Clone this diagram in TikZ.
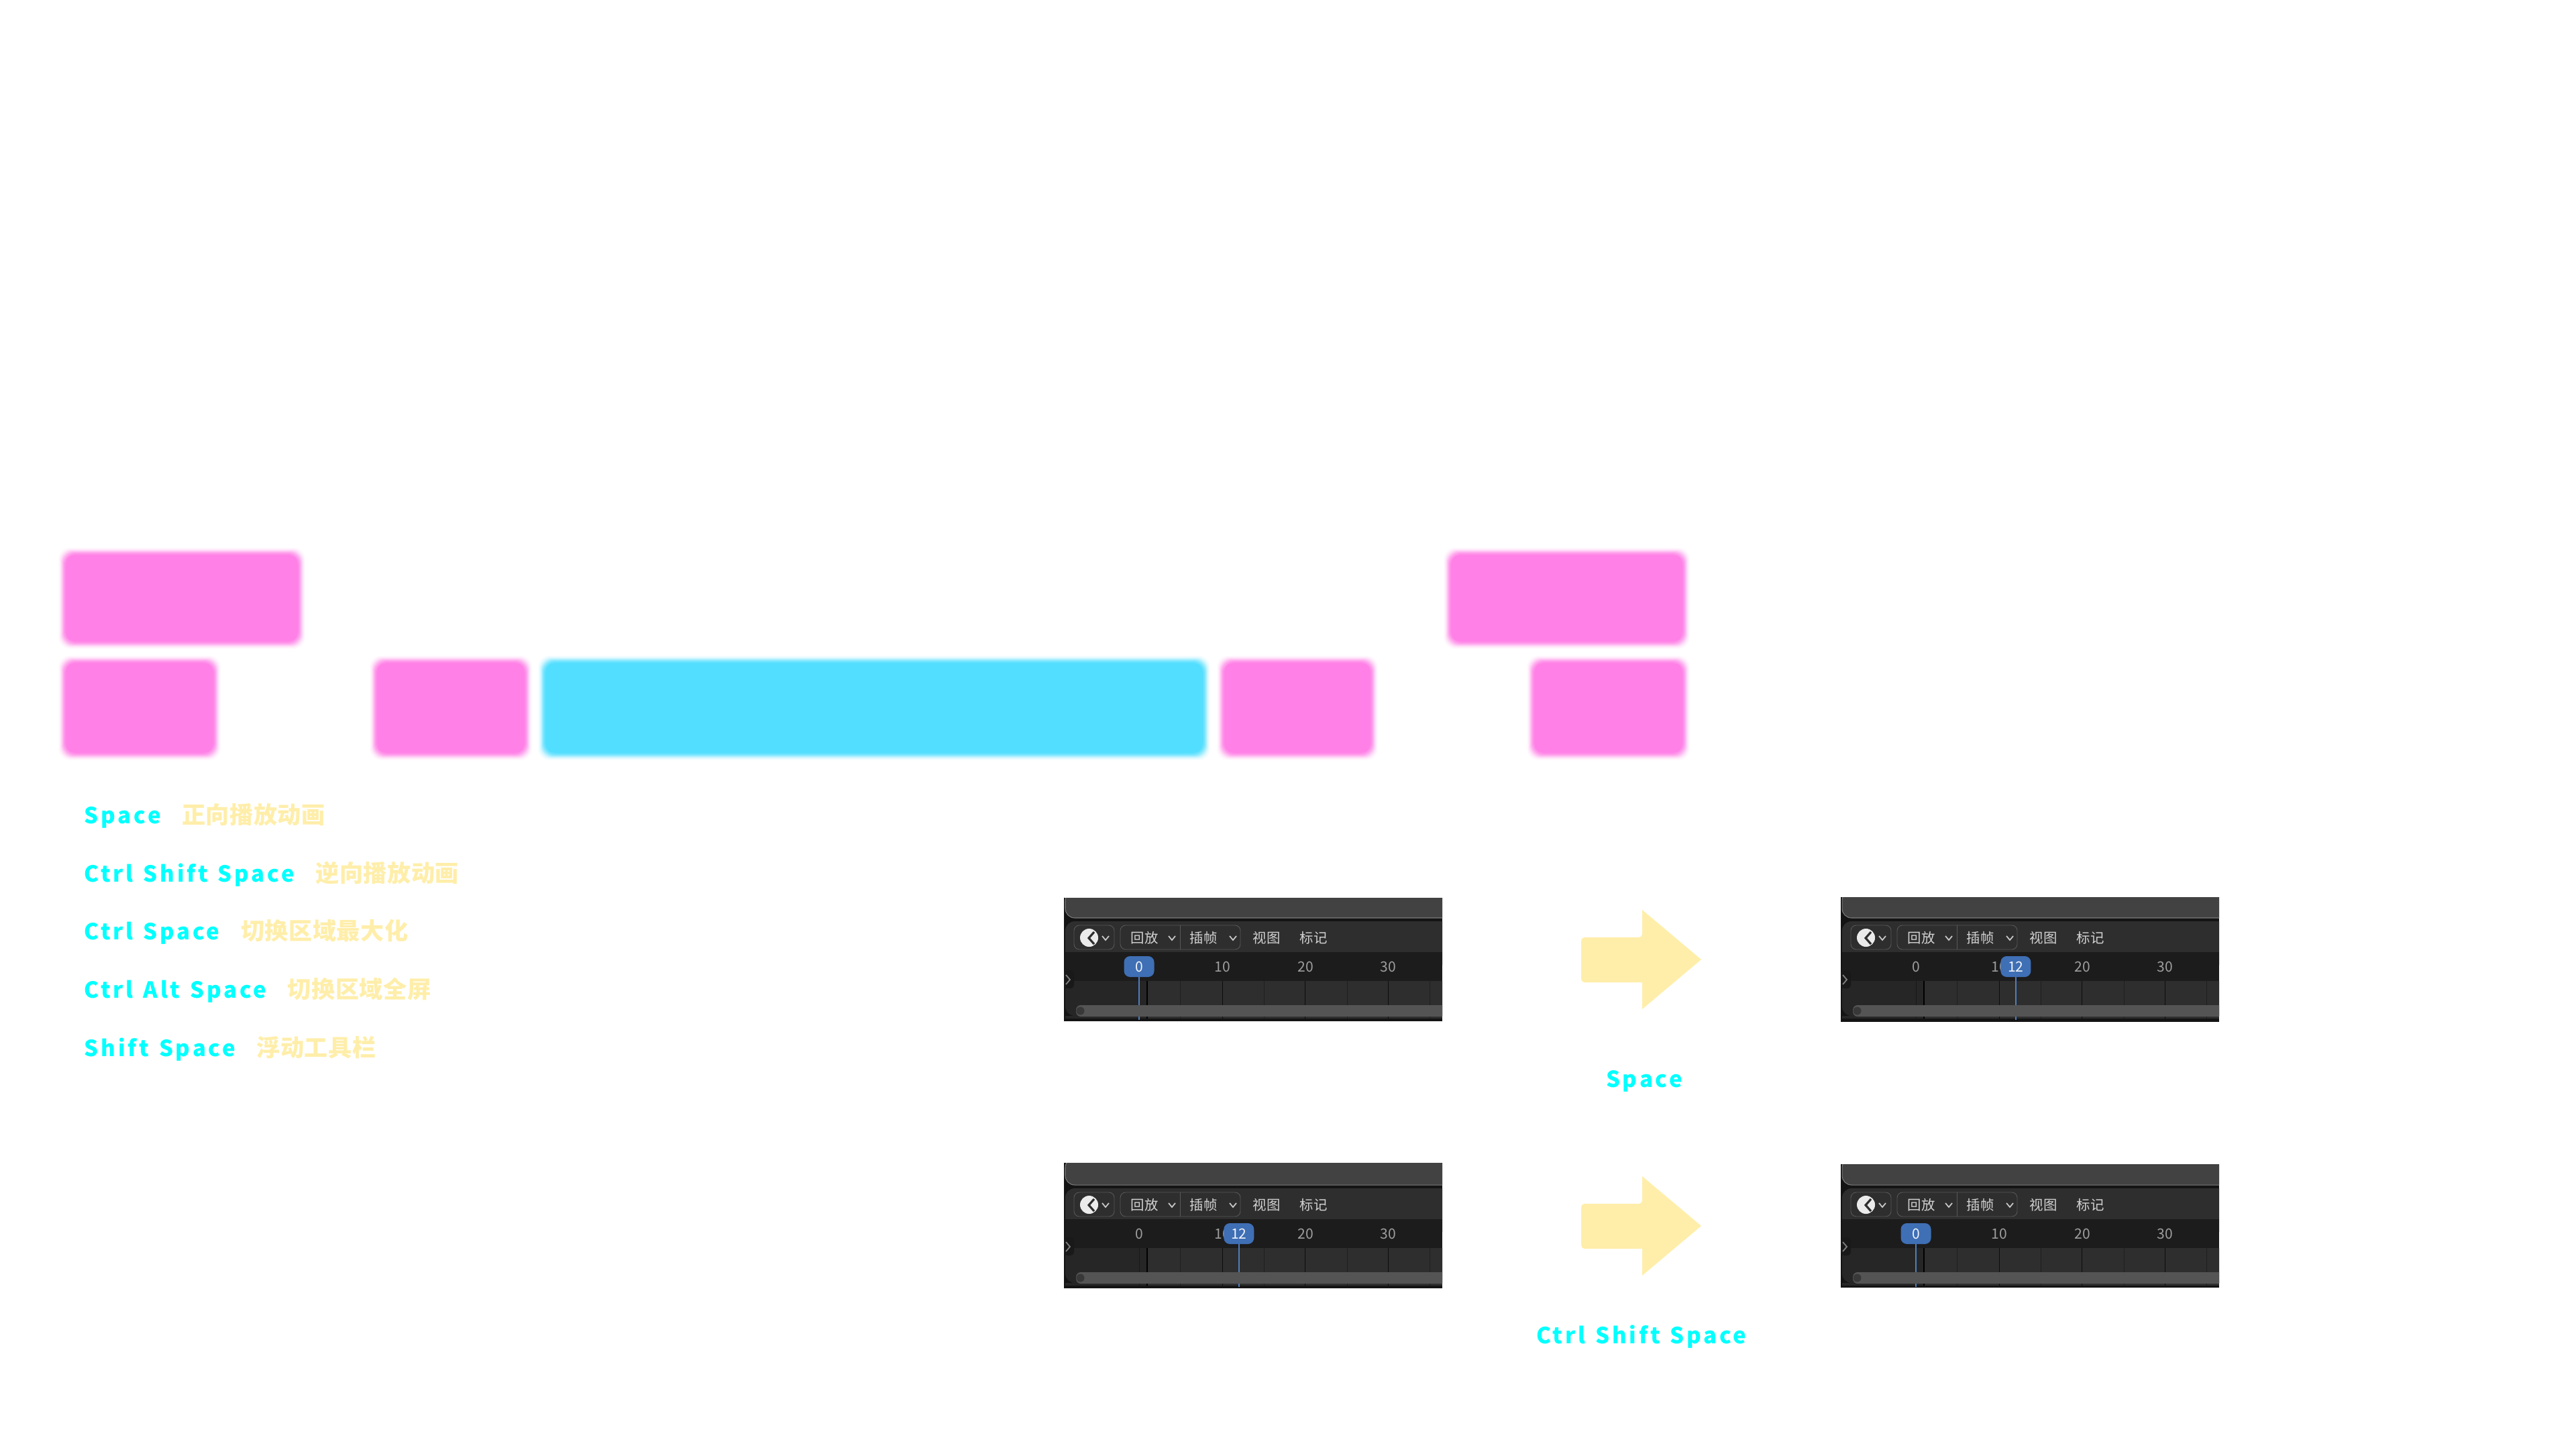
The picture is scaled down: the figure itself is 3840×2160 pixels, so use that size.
\documentclass[tikz,border=0pt]{standalone}
\usepackage{fontspec}
\usetikzlibrary{positioning}
\newfontfamily\keyfont[LetterSpace=11.5,WordSpace=1.3]{Noto Sans CJK SC}
\newfontfamily\descfont[LetterSpace=1.5]{Noto Sans CJK SC}
\newfontfamily\uifont{Noto Sans CJK SC}
\definecolor{softpink}{HTML}{FF80E6}
\definecolor{softcyan}{HTML}{52DEFF}
\definecolor{keycyan}{HTML}{00FFFF}
\definecolor{paleyellow}{HTML}{FFEEAA}
\definecolor{barlight}{HTML}{424242}
\definecolor{barmid}{HTML}{2E2E2E}
\definecolor{rulerdark}{HTML}{1C1C1C}
\definecolor{playblue}{HTML}{3F6FB5}
\tikzset{
  softbox/.style={inner sep=0pt, outer sep=0pt, rounded corners=0.1cm},
  keylabel/.style={inner sep=0pt, text=keycyan, font=\keyfont\fontsize{9.4}{12}\selectfont\bfseries},
  desclabel/.style={inner sep=0pt, text=paleyellow, font=\descfont\fontsize{10}{12}\selectfont\bfseries},
  menutext/.style={inner sep=0pt, text=black!18, font=\uifont\fontsize{5.8}{7}\selectfont},
  rulertext/.style={inner sep=0pt, text=black!38, font=\uifont\fontsize{6}{7}\selectfont},
  playtext/.style={inner sep=0pt, text=white!92!playblue, font=\uifont\fontsize{6}{7}\selectfont},
  framebox/.style={draw=white!20!barmid, line width=0.25pt, rounded corners=0.08cm},
  chevron/.style={draw=black!22, line width=0.5pt},
  bigarrow/.style={fill=paleyellow, draw=none}
}
% name, left, top, right, bottom, colour
\newcommand{\softrect}[6]{
  \foreach \d/\m in {6/4,5/8,4/14,3/22,2/32,1/44,0/56,-1/68,-2/78,-3/86,-4/92,-5/97}
    \fill[#6!\m!white, rounded corners=0.17cm] ({#2-(\d)},{#3-(\d)}) rectangle ({#4+(\d)},{#5+(\d)});
  \node[softbox, fill=#6, minimum width={(#4-#2-12)*0.01cm}, minimum height={(#5-#3-12)*0.01cm}] (#1) at ({(#2+#4)/2},{(#3+#5)/2}) {};
}
% name, left, y of the panel, top crop, bottom crop, frame
\newcommand{\timeline}[6]{
  \begin{scope}[shift={(#2,#3)}]
    \clip (0,#4) rectangle (564,#5);
    \fill[rulerdark!70!black] (0,#4) rectangle (564,#5);
    \fill[barlight, draw=black!52, line width=0.3pt, rounded corners=0.14cm] (2,-10) rectangle (600,30);
    \fill[barmid, rounded corners=0.14cm] (2,35) rectangle (600,100);
    \fill[rulerdark] (2,81) rectangle (564,124);
    \fill[black!85, rounded corners=0.14cm] (2,124) rectangle (600,176);
    \fill[barmid] (124,124) rectangle (564,176);
    \fill[black!85] (2,176) rectangle (124,180);
    \fill[barmid] (124,176) rectangle (564,180);
    \foreach \gx/\gd in {50/85,112/90,173/88,236/95,298/88,359/95,422/88,483/95,545/88}
      \draw[black!\gd, line width=0.3pt] (\gx,124) -- (\gx,180);
    \draw[black, line width=0.35pt] (124,124) -- (124,180);
    % side tab
    \fill[black!90, rounded corners=0.05cm] (0,108) rectangle (15,135);
    \draw[chevron, draw=black!50] (3,115) -- (9,122) -- (3,129);
    % header widgets
    \draw[framebox] (15,41) rectangle (75,77);
    \fill[white!92!black] (37.5,59.5) circle [radius=13.5];
    \draw[barmid, line width=0.9pt] (45,51) -- (37,60) -- (45,69);
    \draw[chevron] (57,57) -- (62,63) -- (67,57);
    \draw[framebox] (84,41) rectangle (263,77);
    \draw[white!20!barmid, line width=0.25pt] (173,41) -- (173,77);
    \node[menutext] (#1-replay) at (120,60) {回放};
    \node[menutext] (#1-keying) at (208,60) {插帧};
    \node[menutext] (#1-view) at (302,60) {视图};
    \node[menutext] (#1-marker) at (372,60) {标记};
    \draw[chevron] (156,57) -- (161,63) -- (166,57);
    \draw[chevron] (247,57) -- (252,63) -- (257,57);
    % ruler numbers
    \node[rulertext] (#1-f0) at (112,103) {0};
    \node[rulertext] (#1-f10) at (236,103) {10};
    \node[rulertext] (#1-f20) at (360,103) {20};
    \node[rulertext] (#1-f30) at (483,103) {30};
    % playhead
    \draw[playblue!90!white, line width=0.75pt] ({112+12.4*#6},110) -- ({112+12.4*#6},182);
    \node[fill=playblue, rounded corners=0.09cm, minimum width=0.45cm, minimum height=0.31cm, inner sep=0pt, playtext] (#1-head) at ({112+12.4*#6},102.5) {#6};
    % scrollbar
    \fill[black!67, rounded corners=0.07cm] (18,160) rectangle (600,177);
    \fill[black!78] (24.5,168.5) circle [radius=6];
  \end{scope}
}
\begin{document}
\begin{tikzpicture}[x=0.01cm, y=-0.01cm]
  \useasboundingbox (0,0) rectangle (3840,2160);
  \softrect{topleft}{93}{822}{449}{961}{softpink}
  \softrect{lowleft}{93}{983}{323}{1127}{softpink}
  \softrect{lowmid}{557}{983}{787}{1127}{softpink}
  \softrect{centre}{808}{983}{1798}{1127}{softcyan}
  \softrect{lowright}{1820}{983}{2048}{1127}{softpink}
  \softrect{topend}{2158}{822}{2513}{961}{softpink}
  \softrect{lowend}{2282}{983}{2513}{1127}{softpink}

  \node[keylabel, anchor=base west] (keyone) at (125,1227) {Space};
  \node[desclabel, base right=0.30cm of keyone] (descone) {正向播放动画};
  \node[keylabel, anchor=base west] (keytwo) at (125,1314) {Ctrl Shift Space};
  \node[desclabel, base right=0.30cm of keytwo] (desctwo) {逆向播放动画};
  \node[keylabel, anchor=base west] (keythree) at (125,1400) {Ctrl Space};
  \node[desclabel, base right=0.30cm of keythree] (descthree) {切换区域最大化};
  \node[keylabel, anchor=base west] (keyfour) at (125,1487) {Ctrl Alt Space};
  \node[desclabel, base right=0.30cm of keyfour] (descfour) {切换区域全屏};
  \node[keylabel, anchor=base west] (keyfive) at (125,1574) {Shift Space};
  \node[desclabel, base right=0.30cm of keyfive] (descfive) {浮动工具栏};

  \timeline{before}{1586}{1338}{0}{184}{0}
  \timeline{after}{2744}{1338}{-1}{185}{12}
  \timeline{backstart}{1586}{1736}{-3}{184}{12}
  \timeline{backend}{2744}{1736}{-1}{183}{0}

  \fill[bigarrow] (2448,1356) -- (2536,1430) -- (2448,1504) -- (2448,1464)
    [rounded corners=0.05cm] -- (2357,1464) -- (2357,1397) -- (2448,1397) [sharp corners] -- cycle;
  \fill[bigarrow] (2448,1753) -- (2536,1827) -- (2448,1901) -- (2448,1861)
    [rounded corners=0.05cm] -- (2357,1861) -- (2357,1794) -- (2448,1794) [sharp corners] -- cycle;

  \node[keylabel, anchor=base] (spacelabel) at (2451,1620) {Space};
  \node[keylabel, anchor=base] (backlabel) at (2447,2002) {Ctrl Shift Space};
\end{tikzpicture}
\end{document}
